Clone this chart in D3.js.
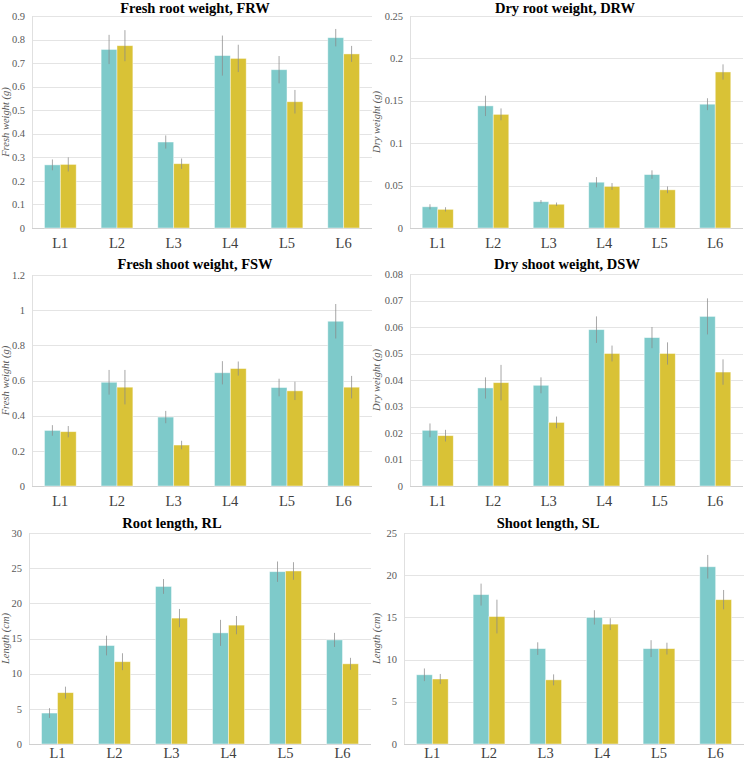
<!doctype html>
<html lang="en">
<head>
<meta charset="UTF-8">
<title>Root and shoot traits</title>
<style>
  body { margin: 0; background: #fff; }
  svg { font-family: "Liberation Serif", "Times New Roman", "DejaVu Serif", serif; }
  .grid line { stroke: #e4e4e4; stroke-width: 1; }
  .tick-label { font-size: 10.5px; fill: #595959; }
  .cat-label { font-size: 14.5px; fill: #404040; }
  .y-title { font-size: 10.5px; font-style: italic; fill: #595959; }
  .title { font-size: 14.5px; font-weight: bold; fill: #000; }
</style>
<script src="https://cdn.jsdelivr.net/npm/d3@7"></script>
</head>
<body>
<svg width="745" height="765"></svg>
<script>
// categories shared by all six panels
var categories = ['L1', 'L2', 'L3', 'L4', 'L5', 'L6'];

// Fresh root weight (g)
var frwA = [0.268, 0.758, 0.365, 0.732, 0.672, 0.808];
var frwAErr = [0.023, 0.062, 0.028, 0.085, 0.058, 0.037];
var frwB = [0.270, 0.774, 0.273, 0.720, 0.536, 0.739];
var frwBErr = [0.030, 0.066, 0.022, 0.058, 0.050, 0.034];

// Dry root weight (g)
var drwA = [0.025, 0.144, 0.031, 0.054, 0.063, 0.146];
var drwAErr = [0.003, 0.012, 0.002, 0.006, 0.005, 0.007];
var drwB = [0.022, 0.134, 0.028, 0.049, 0.045, 0.184];
var drwBErr = [0.0025, 0.007, 0.002, 0.004, 0.004, 0.009];

// Fresh shoot weight (g)
var fswA = [0.316, 0.590, 0.392, 0.644, 0.560, 0.937];
var fswAErr = [0.030, 0.070, 0.035, 0.066, 0.050, 0.098];
var fswB = [0.309, 0.562, 0.233, 0.668, 0.541, 0.562];
var fswBErr = [0.032, 0.098, 0.024, 0.040, 0.052, 0.064];

// Dry shoot weight (g)
var dswA = [0.021, 0.037, 0.038, 0.059, 0.056, 0.064];
var dswAErr = [0.0026, 0.004, 0.003, 0.005, 0.004, 0.0068];
var dswB = [0.019, 0.039, 0.024, 0.050, 0.050, 0.043];
var dswBErr = [0.0022, 0.0067, 0.0022, 0.003, 0.0042, 0.0048];

// Root length (cm)
var rlA = [4.4, 14.0, 22.4, 15.8, 24.5, 14.8];
var rlAErr = [0.7, 1.4, 1.05, 1.85, 1.45, 1.0];
var rlB = [7.3, 11.7, 17.9, 16.9, 24.6, 11.4];
var rlBErr = [0.85, 1.2, 1.3, 1.3, 1.25, 0.85];

// Shoot length (cm)
var slA = [8.2, 17.7, 11.3, 15.0, 11.3, 21.0];
var slAErr = [0.75, 1.3, 0.75, 0.85, 1.0, 1.4];
var slB = [7.7, 15.1, 7.6, 14.2, 11.3, 17.1];
var slBErr = [0.6, 2.0, 0.65, 0.7, 0.7, 1.15];

// y-axis ticks for each panel
var frwTicks = [0, 0.1, 0.2, 0.3, 0.4, 0.5, 0.6, 0.7, 0.8, 0.9];
var drwTicks = [0, 0.05, 0.1, 0.15, 0.2, 0.25];
var fswTicks = [0, 0.2, 0.4, 0.6, 0.8, 1, 1.2];
var dswTicks = [0, 0.01, 0.02, 0.03, 0.04, 0.05, 0.06, 0.07, 0.08];
var rlTicks = [0, 5, 10, 15, 20, 25, 30];
var slTicks = [0, 5, 10, 15, 20, 25];

var colors = ['#7ecaca', '#d9c236'];

var panels = [
  { title: 'Fresh root weight, FRW', yTitle: 'Fresh weight (g)', a: frwA, aErr: frwAErr, b: frwB, bErr: frwBErr, ticks: frwTicks,
    box: { l: 32, r: 372, t: 16, b: 228 }, titleX: 195, titleY: 13, catY: 248, yTitleX: 9 },
  { title: 'Dry root weight, DRW', yTitle: 'Dry weight (g)', a: drwA, aErr: drwAErr, b: drwB, bErr: drwBErr, ticks: drwTicks,
    box: { l: 410, r: 743, t: 16, b: 228 }, titleX: 565, titleY: 13, catY: 248, yTitleX: 380 },
  { title: 'Fresh shoot weight, FSW', yTitle: 'Fresh weight (g)', a: fswA, aErr: fswAErr, b: fswB, bErr: fswBErr, ticks: fswTicks,
    box: { l: 32, r: 372, t: 275, b: 486 }, titleX: 195, titleY: 269, catY: 506, yTitleX: 9 },
  { title: 'Dry shoot weight, DSW', yTitle: 'Dry weight (g)', a: dswA, aErr: dswAErr, b: dswB, bErr: dswBErr, ticks: dswTicks,
    box: { l: 410, r: 743, t: 274, b: 486 }, titleX: 567, titleY: 269, catY: 506, yTitleX: 380 },
  { title: 'Root length, RL', yTitle: 'Length (cm)', a: rlA, aErr: rlAErr, b: rlB, bErr: rlBErr, ticks: rlTicks,
    box: { l: 29, r: 371, t: 533, b: 744 }, titleX: 172, titleY: 528, catY: 758, yTitleX: 9 },
  { title: 'Shoot length, SL', yTitle: 'Length (cm)', a: slA, aErr: slAErr, b: slB, bErr: slBErr, ticks: slTicks,
    box: { l: 404, r: 744, t: 533, b: 744 }, titleX: 548, titleY: 528, catY: 758, yTitleX: 380 }
];

var svg = d3.select('svg');

panels.forEach(function(p) {
  var g = svg.append('g');
  var x = d3.scaleBand().domain(categories).range([p.box.l, p.box.r]).paddingInner(0.44).paddingOuter(0.22);
  var xs = d3.scaleBand().domain([0, 1]).range([0, x.bandwidth()]);
  var y = d3.scaleLinear().domain([0, d3.max(p.ticks)]).range([p.box.b, p.box.t]);

  // grid
  g.append('g').attr('class', 'grid')
    .selectAll('line').data(p.ticks.slice(1)).enter().append('line')
      .attr('x1', p.box.l).attr('x2', p.box.r)
      .attr('y1', function(d) { return Math.round(y(d)) + 0.5; })
      .attr('y2', function(d) { return Math.round(y(d)) + 0.5; });

  // left and bottom axis lines
  g.append('line').attr('x1', p.box.l + 0.5).attr('x2', p.box.l + 0.5)
    .attr('y1', p.box.t).attr('y2', p.box.b).attr('stroke', '#e0e0e0');
  g.append('line').attr('x1', p.box.l).attr('x2', p.box.r)
    .attr('y1', p.box.b + 0.5).attr('y2', p.box.b + 0.5).attr('stroke', '#d0d0d0');

  // tick labels
  g.selectAll('.tick-label').data(p.ticks).enter().append('text')
    .attr('class', 'tick-label')
    .attr('x', p.box.l - 7)
    .attr('y', function(d) { return y(d); })
    .attr('dy', '0.35em')
    .attr('text-anchor', 'end')
    .text(function(d) { return String(+d.toFixed(4)); });

  // category labels
  g.selectAll('.cat-label').data(categories).enter().append('text')
    .attr('class', 'cat-label')
    .attr('x', function(d) { return x(d) + x.bandwidth() / 2; })
    .attr('y', p.catY)
    .attr('text-anchor', 'middle')
    .text(function(d) { return d; });

  // bars
  var rows = [];
  categories.forEach(function(c, i) {
    rows.push({ cat: c, s: 0, v: p.a[i], e: p.aErr[i] });
    rows.push({ cat: c, s: 1, v: p.b[i], e: p.bErr[i] });
  });

  g.selectAll('rect.bar').data(rows).enter().append('rect')
    .attr('class', 'bar')
    .attr('x', function(d) { return x(d.cat) + xs(d.s); })
    .attr('width', xs.bandwidth())
    .attr('y', function(d) { return y(d.v); })
    .attr('height', function(d) { return y(0) - y(d.v); })
    .attr('fill', function(d) { return colors[d.s]; })
    .attr('stroke', '#ffffff')
    .attr('stroke-opacity', 0.55)
    .attr('stroke-width', 0.8);

  // error bars
  g.selectAll('line.err').data(rows).enter().append('line')
    .attr('class', 'err')
    .attr('x1', function(d) { return x(d.cat) + xs(d.s) + xs.bandwidth() / 2; })
    .attr('x2', function(d) { return x(d.cat) + xs(d.s) + xs.bandwidth() / 2; })
    .attr('y1', function(d) { return y(d.v + d.e); })
    .attr('y2', function(d) { return y(d.v - d.e); })
    .attr('stroke', '#8a8a8a')
    .attr('stroke-opacity', 0.75)
    .attr('stroke-width', 1);

  // titles
  g.append('text').attr('class', 'title')
    .attr('x', p.titleX).attr('y', p.titleY)
    .attr('text-anchor', 'middle')
    .text(p.title);

  g.append('text').attr('class', 'y-title')
    .attr('transform', 'translate(' + p.yTitleX + ',' + ((p.box.t + p.box.b) / 2) + ') rotate(-90)')
    .attr('x', 0).attr('y', 0)
    .attr('text-anchor', 'middle')
    .text(p.yTitle);
});
</script>
</body>
</html>
